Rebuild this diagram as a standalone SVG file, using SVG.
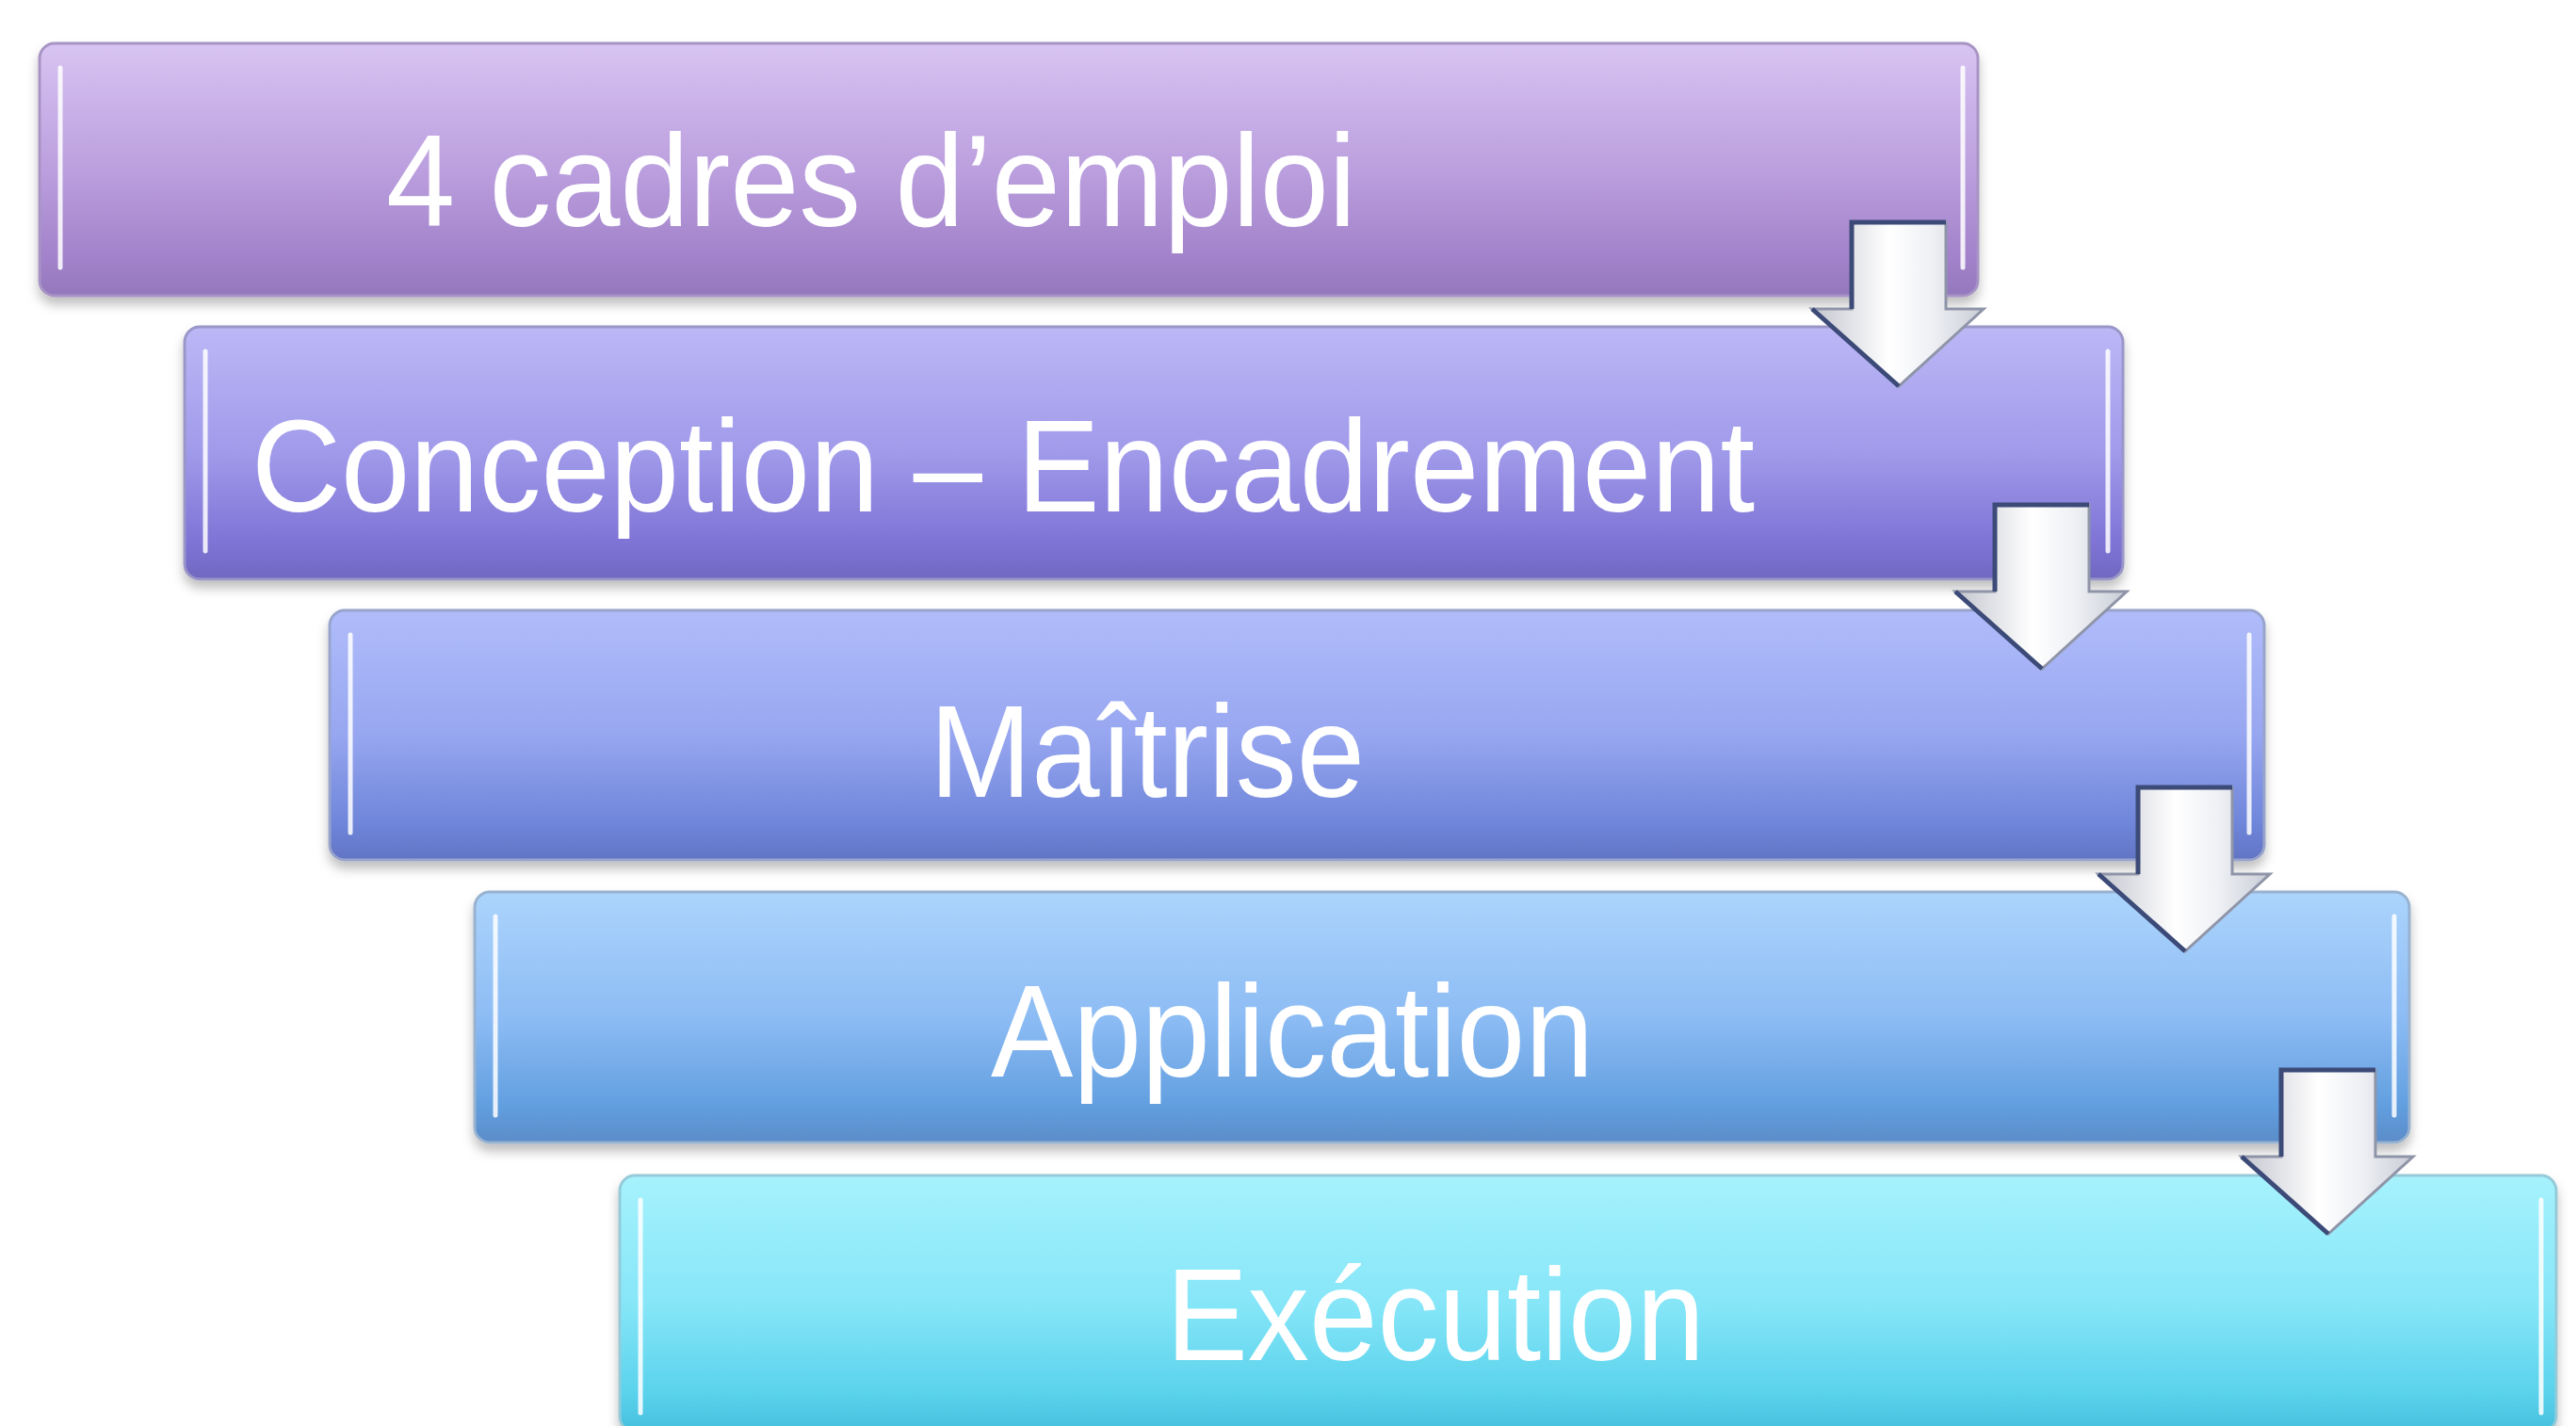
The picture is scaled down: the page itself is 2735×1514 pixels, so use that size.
<svg xmlns="http://www.w3.org/2000/svg" width="2735" height="1514" viewBox="0 0 2735 1514">
<defs>
<style>
.lbl{font-family:"Liberation Sans",Arial,sans-serif;font-size:140px;fill:#ffffff}
.hl{fill:none;stroke:#ffffff;stroke-width:5;stroke-opacity:0.85;stroke-linecap:round}
.arr{fill:url(#ga);stroke:#8f95a8;stroke-width:3;stroke-linejoin:miter}
.arrEdge{fill:none;stroke:#3c4a78;stroke-width:5}
</style>
<filter id="sh" x="-5%" y="-20%" width="110%" height="150%">
<feDropShadow dx="0" dy="8" stdDeviation="6" flood-color="#000" flood-opacity="0.25"/>
</filter>
<linearGradient id="g1" x1="0" y1="0" x2="0" y2="1">
<stop offset="0" stop-color="#d8c4f2"/><stop offset="0.5" stop-color="#bb9fde"/><stop offset="0.85" stop-color="#a282ca"/><stop offset="1" stop-color="#9478bd"/>
</linearGradient>
<linearGradient id="g2" x1="0" y1="0" x2="0" y2="1">
<stop offset="0" stop-color="#bcb8f6"/><stop offset="0.5" stop-color="#a09aea"/><stop offset="0.85" stop-color="#7f74d6"/><stop offset="1" stop-color="#7068c0"/>
</linearGradient>
<linearGradient id="g3" x1="0" y1="0" x2="0" y2="1">
<stop offset="0" stop-color="#b0bcfa"/><stop offset="0.5" stop-color="#97a6f0"/><stop offset="0.85" stop-color="#6f86da"/><stop offset="1" stop-color="#6274c4"/>
</linearGradient>
<linearGradient id="g4" x1="0" y1="0" x2="0" y2="1">
<stop offset="0" stop-color="#acd4fc"/><stop offset="0.5" stop-color="#8dbcf4"/><stop offset="0.85" stop-color="#629fe0"/><stop offset="1" stop-color="#5a8cc8"/>
</linearGradient>
<linearGradient id="g5" x1="0" y1="0" x2="0" y2="1">
<stop offset="0" stop-color="#a6f2fd"/><stop offset="0.5" stop-color="#86e6f8"/><stop offset="0.85" stop-color="#5ad2ec"/><stop offset="1" stop-color="#46bfde"/>
</linearGradient>
<linearGradient id="ga" x1="0" y1="0" x2="1" y2="0">
<stop offset="0" stop-color="#c4c6cf"/><stop offset="0.45" stop-color="#ffffff"/><stop offset="0.7" stop-color="#eef0f4"/><stop offset="1" stop-color="#c9ccd6"/>
</linearGradient>
</defs>
<rect width="2735" height="1514" fill="#ffffff"/>

<g id="node1">
<rect x="42" y="46" width="2058" height="268" rx="16" fill="url(#g1)" stroke="#a894c4" stroke-width="3" filter="url(#sh)"/>
<line class="hl" x1="64" y1="72" x2="64" y2="284"/>
<line class="hl" x1="2084" y1="72" x2="2084" y2="284" stroke-opacity="0.5"/>
<text class="lbl" x="410" y="240" textLength="1030" lengthAdjust="spacingAndGlyphs">4 cadres d’emploi</text>
</g>

<g id="node2">
<rect x="196" y="347" width="2058" height="268" rx="16" fill="url(#g2)" stroke="#9a96c8" stroke-width="3" filter="url(#sh)"/>
<line class="hl" x1="218" y1="373" x2="218" y2="585"/>
<line class="hl" x1="2238" y1="373" x2="2238" y2="585" stroke-opacity="0.5"/>
<text class="lbl" x="267" y="543" textLength="1596" lengthAdjust="spacingAndGlyphs">Conception – Encadrement</text>
</g>

<g id="node3">
<rect x="350" y="648" width="2054" height="265" rx="16" fill="url(#g3)" stroke="#98a4cc" stroke-width="3" filter="url(#sh)"/>
<line class="hl" x1="372" y1="674" x2="372" y2="884"/>
<line class="hl" x1="2388" y1="674" x2="2388" y2="884" stroke-opacity="0.5"/>
<text class="lbl" x="987" y="846" textLength="462" lengthAdjust="spacingAndGlyphs">Maîtrise</text>
</g>

<g id="node4">
<rect x="504" y="947" width="2054" height="266" rx="16" fill="url(#g4)" stroke="#98b2d0" stroke-width="3" filter="url(#sh)"/>
<line class="hl" x1="526" y1="973" x2="526" y2="1184"/>
<line class="hl" x1="2542" y1="973" x2="2542" y2="1184" stroke-opacity="0.5"/>
<text class="lbl" x="1052" y="1143" textLength="640" lengthAdjust="spacingAndGlyphs">Application</text>
</g>

<g id="node5">
<rect x="658" y="1248" width="2056" height="272" rx="16" fill="url(#g5)" stroke="#96cad8" stroke-width="3" filter="url(#sh)"/>
<line class="hl" x1="680" y1="1274" x2="680" y2="1500"/>
<line class="hl" x1="2698" y1="1274" x2="2698" y2="1500" stroke-opacity="0.5"/>
<text class="lbl" x="1238" y="1444" textLength="572" lengthAdjust="spacingAndGlyphs">Exécution</text>
</g>

<g id="connectors">
<g>
<path class="arr" d="M1966 236 H2066 V328 H2106 L2016 410 L1924 328 H1966 Z"/>
<path class="arrEdge" d="M1966 328 V236 H2066 M1924 328 L2016 410"/>
</g>
<g>
<path class="arr" d="M2118 536 H2218 V628 H2258 L2168 710 L2076 628 H2118 Z"/>
<path class="arrEdge" d="M2118 628 V536 H2218 M2076 628 L2168 710"/>
</g>
<g>
<path class="arr" d="M2270 836 H2370 V928 H2410 L2320 1010 L2228 928 H2270 Z"/>
<path class="arrEdge" d="M2270 928 V836 H2370 M2228 928 L2320 1010"/>
</g>
<g>
<path class="arr" d="M2422 1136 H2522 V1228 H2562 L2472 1310 L2380 1228 H2422 Z"/>
<path class="arrEdge" d="M2422 1228 V1136 H2522 M2380 1228 L2472 1310"/>
</g>
</g>
</svg>
